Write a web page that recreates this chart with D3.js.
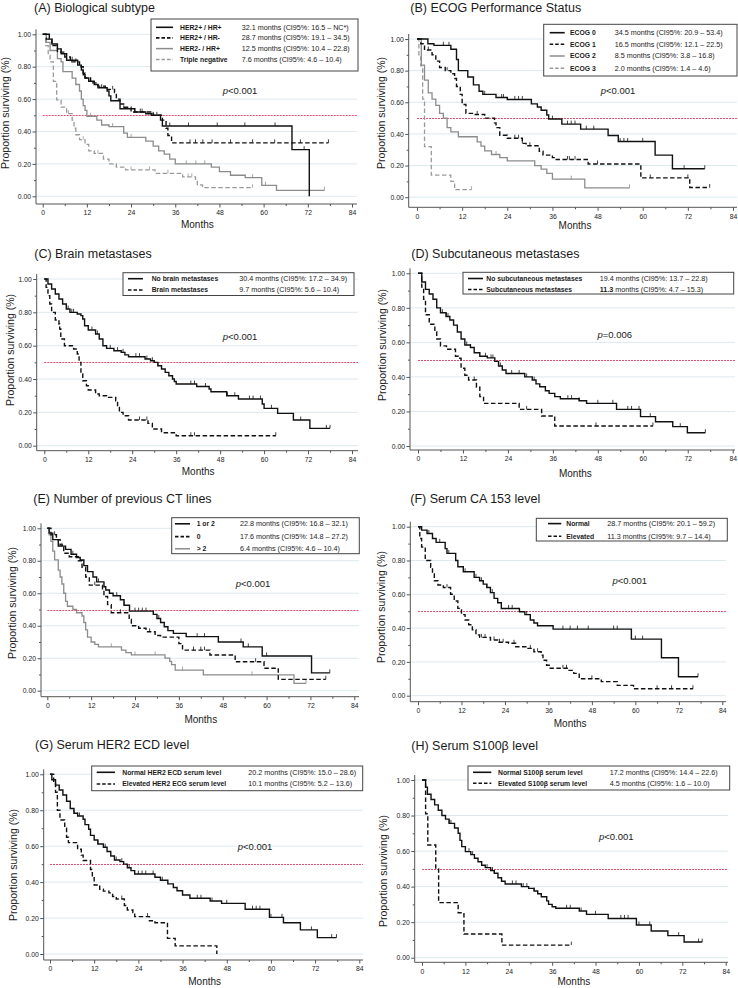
<!DOCTYPE html>
<html><head><meta charset="utf-8">
<script src="https://cdn.jsdelivr.net/npm/d3@7"></script>
<style>
body{margin:0;background:#fff}
svg{display:block}
text{font-family:"Liberation Sans",Arial,Helvetica,sans-serif;fill:#1a1a1a}
</style></head>
<body><svg id="chart" width="738" height="988"></svg>
<script>
// ---------- shared tick values ----------
const xMajorTicks = [0, 12, 24, 36, 48, 60, 72, 84];
const xMinorTicks = [6, 18, 30, 42, 54, 66, 78];
const yMajorTicks = [0, 0.2, 0.4, 0.6, 0.8, 1.0];
const yMinorTicks = [0.1, 0.3, 0.5, 0.7, 0.9];
const medianLine = 0.5;

// ---------- (A) Biological subtype ----------
const aLabels = ["HER2+ / HR+", "HER2+ / HR-", "HER2- / HR+", "Triple negative"];
const aMedians = ["32.1 months (CI95%: 16.5 \u2013 NC*)", "28.7 months (CI95%: 19.1 \u2013 34.5)", "12.5 months (CI95%: 10.4 \u2013 22.8)", "7.6 months (CI95%: 4.6 \u2013 10.4)"];
const aHerPosHrPos = [[0,1],[1.8,0.97],[2.5,0.94],[4,0.91],[5,0.88],[6.5,0.84],[9.5,0.81],[10.5,0.78],[11,0.75],[11.5,0.73],[12.5,0.71],[14,0.69],[15,0.67],[17.5,0.65],[18,0.62],[18.5,0.59],[21,0.54],[25,0.52],[28,0.51],[29.5,0.50],[32,0.47],[32.5,0.434],[67.7,0.288],[72.4,0]];
const aHerPosHrPosEnd = 72.4;
const aHerPosHrPosCens = [8,13,16,22,26.5,30,34.5,39.6,47.4,54.9,63.1,71];
const aHerPosHrNeg = [[0,1],[1,0.97],[2.5,0.93],[4,0.89],[6,0.86],[7.5,0.83],[10,0.80],[11,0.76],[11.5,0.73],[13,0.70],[15,0.68],[17,0.66],[19.5,0.64],[20,0.60],[21,0.57],[22,0.55],[24,0.52],[30,0.50],[32.5,0.47],[33.5,0.42],[34,0.375],[35,0.33]];
const aHerPosHrNegEnd = 77.6;
const aHerPosHrNegCens = [5,9,19,25,27,31,40,41.5,43.5,46,51,57,63,70,77.6];
const aHerNegHrPos = [[0,1],[1,0.95],[2,0.90],[4,0.85],[5,0.83],[5.5,0.77],[8,0.73],[9,0.69],[10,0.65],[10.5,0.60],[11,0.56],[11.5,0.53],[12,0.494],[14.7,0.47],[16,0.44],[18,0.43],[22,0.39],[23,0.364],[28,0.34],[30,0.31],[31.5,0.28],[33,0.26],[34.5,0.23],[36,0.20],[45.8,0.18],[48,0.152],[51,0.13],[55,0.115],[59.5,0.068],[63.5,0.037]];
const aHerNegHrPosEnd = 76.5;
const aHerNegHrPosCens = [13,19,24,39,41.6,44,57,60.5,76.5];
const aTripleNeg = [[0,1],[0.8,0.93],[1.5,0.87],[2,0.83],[2.9,0.71],[3.8,0.595],[5,0.55],[6.5,0.51],[8,0.47],[8.5,0.42],[9,0.38],[10,0.35],[11.5,0.32],[12.5,0.28],[14,0.265],[16.5,0.23],[18,0.20],[20,0.18],[22.5,0.163],[30.5,0.142],[38,0.12],[41.5,0.10],[42,0.07],[43.4,0.053]];
const aTripleNegEnd = 57;
const aTripleNegCens = [7,11,15,24,29,34,39.5,40.5,57];

// ---------- (B) ECOG Performance Status ----------
const bLabels = ["ECOG 0", "ECOG 1", "ECOG 2", "ECOG 3"];
const bMedians = ["34.5 months (CI95%: 20.9 \u2013 53.4)", "16.5 months (CI95%: 12.1 \u2013 22.5)", "8.5 months (CI95%: 3.8 \u2013 16.8)", "2.0 months (CI95%: 1.4 \u2013 4.6)"];
const bEcog0 = [[0,1],[2.9,0.97],[4.5,0.96],[9,0.935],[10.5,0.87],[11,0.80],[13.5,0.76],[15,0.71],[16.5,0.67],[17.5,0.65],[21,0.63],[24,0.618],[30.4,0.59],[32,0.57],[33,0.55],[34.5,0.52],[35,0.494],[38.5,0.462],[43.5,0.43],[50.8,0.39],[53.5,0.352],[63.3,0.266],[67.9,0.18]];
const bEcog0End = 76.5;
const bEcog0Cens = [7,8.5,18,22.5,23,26,27,28,36,40,41,42,45,47,54,55,56,60,71,76.5];
const bEcog1 = [[0,1],[1,0.97],[2,0.93],[4,0.90],[5,0.86],[6,0.82],[7.5,0.80],[9,0.78],[10,0.75],[10.5,0.70],[11.5,0.65],[12,0.586],[13,0.53],[15,0.523],[18,0.50],[20.6,0.47],[21,0.44],[22,0.392],[24,0.373],[28,0.34],[29,0.325],[32.5,0.29],[33.5,0.266],[36,0.25],[37,0.238],[45.5,0.21],[59.5,0.122],[72.5,0.061]];
const bEcog1End = 77.8;
const bEcog1Cens = [3,8,16,26,27,28,30,40,40.5,42,48,62,72,77.8];
const bEcog2 = [[0,1],[1.15,0.835],[2,0.74],[3,0.66],[4,0.62],[5,0.58],[6,0.53],[7,0.50],[8,0.44],[9,0.413],[11,0.382],[16,0.35],[17,0.323],[18,0.293],[19.8,0.27],[22,0.25],[24,0.23],[31.3,0.20],[33,0.177],[34.5,0.15],[36,0.114],[44.6,0.059]];
const bEcog2End = 56.5;
const bEcog2Cens = [21,41,56.5];
const bEcog3 = [[0,1],[0.5,0.90],[1,0.83],[1.5,0.62],[2,0.32],[3.8,0.14],[9,0.10],[10,0.048]];
const bEcog3End = 14.5;
const bEcog3Cens = [14.5];

// ---------- (C) Brain metastases ----------
const cLabels = ["No brain metastases", "Brain metastases"];
const cMedians = ["30.4 months (CI95%: 17.2 \u2013 34.9)", "9.7 months (CI95%: 5.6 \u2013 10.4)"];
const cNoBrain = [[0,1],[1,0.97],[2,0.94],[3,0.91],[4,0.88],[5,0.85],[6,0.82],[7,0.80],[9,0.79],[10,0.78],[10.5,0.76],[11,0.72],[12,0.694],[14,0.67],[15,0.64],[16,0.60],[17,0.584],[19,0.57],[21,0.56],[22,0.545],[23,0.534],[27.5,0.52],[29,0.51],[30,0.50],[31,0.48],[32,0.46],[33,0.44],[34,0.42],[35,0.40],[35.5,0.385],[36,0.37],[41.6,0.355],[45,0.34],[45.5,0.324],[49.8,0.30],[53,0.28],[59.5,0.25],[60,0.224],[63.7,0.194],[68,0.154],[72.5,0.104]];
const cNoBrainEnd = 78;
const cNoBrainCens = [6.5,7.5,8,13,14.5,18,20,21.5,25,26,28,29.5,31,40,41,44,50,52,56,57,59,62,70,77,78];
const cBrain = [[0,1],[0.5,0.95],[1,0.90],[1.5,0.85],[2,0.80],[3,0.754],[4,0.73],[4.2,0.70],[4.5,0.64],[5.5,0.60],[8,0.58],[9,0.55],[9.5,0.50],[10,0.43],[10.5,0.39],[11.5,0.36],[12,0.334],[14,0.31],[15,0.30],[17,0.29],[19.5,0.27],[20,0.23],[20.5,0.20],[21.5,0.18],[23,0.154],[28.3,0.134],[29.5,0.10],[32,0.078],[36,0.06]];
const cBrainEnd = 63.2;
const cBrainCens = [26,28,40,41,63.2];

// ---------- (D) Subcutaneous metastases ----------
const dLabels = ["No subcutaneous metastases", "Subcutaneous metastases"];
const dMedians = ["19.4 months (CI95%: 13.7 \u2013 22.8)", "11.3 months (CI95%: 4.7 \u2013 15.3)"];
const dNoSubcut = [[0,1],[1,0.95],[2,0.907],[3,0.88],[4,0.85],[5,0.80],[6,0.772],[7.5,0.75],[8.5,0.73],[9.5,0.70],[10.5,0.66],[11.5,0.62],[12.5,0.585],[14,0.57],[15,0.54],[16.5,0.52],[18.5,0.51],[20.5,0.49],[21.5,0.463],[22.5,0.44],[23.5,0.42],[28.5,0.40],[30.5,0.382],[31.5,0.36],[32.5,0.343],[34,0.32],[35,0.305],[36.5,0.286],[38,0.274],[43,0.262],[45,0.247],[53,0.212],[59.4,0.17],[63.4,0.14],[68,0.112],[71.9,0.077]];
const dNoSubcutEnd = 76.7;
const dNoSubcutCens = [6.5,7.5,8,13,14,18,19.5,20,22,25,27,29,31,40,41,43,48,52,56,57,59,62,70,76.7];
const dSubcut = [[0,1],[1,0.92],[1.5,0.85],[2,0.76],[3,0.705],[4.5,0.662],[5,0.62],[6,0.58],[7.6,0.56],[10,0.52],[10.8,0.508],[11.5,0.45],[12.5,0.41],[13.5,0.382],[15.6,0.34],[16.5,0.286],[17.5,0.247],[27,0.212],[33,0.174],[36.5,0.116]];
const dSubcutEnd = 62.7;
const dSubcutCens = [15,29,47.5,62.7];

// ---------- (E) Number of previous CT lines ----------
const eLabels = ["1 or 2", "0", "> 2"];
const eMedians = ["22.8 months (CI95%: 16.8 \u2013 32.1)", "17.6 months (CI95%: 14.8 \u2013 27.2)", "6.4 months (CI95%: 4.6 \u2013 10.4)"];
const eOneOrTwo = [[0,1],[0.5,0.97],[1.5,0.93],[3,0.89],[5,0.87],[6.5,0.84],[8,0.82],[9,0.805],[10,0.77],[11,0.733],[12.5,0.70],[13.5,0.67],[15.5,0.64],[16,0.62],[17,0.60],[18,0.585],[20,0.56],[21,0.526],[22.5,0.49],[29,0.47],[30,0.445],[31,0.42],[32,0.394],[33,0.37],[34.5,0.353],[38,0.333],[46.8,0.30],[53.6,0.27],[58.8,0.214],[72.3,0.11]];
const eOneOrTwoEnd = 77.3;
const eOneOrTwoCens = [4,7,14,19,21,24,25,26,27,30.5,41,43,53,55,60,77.3];
const eZero = [[0,1],[1,0.96],[2.5,0.93],[3.5,0.897],[4.5,0.846],[6,0.825],[8.5,0.80],[9.5,0.76],[10.5,0.70],[11.5,0.65],[15.1,0.62],[15.5,0.58],[16.5,0.53],[17.5,0.48],[22.4,0.44],[23,0.40],[25,0.385],[27,0.363],[29.5,0.34],[31,0.33],[36,0.29],[37,0.25],[44.5,0.22],[51.4,0.178],[59.3,0.138],[63.2,0.07]];
const eZeroEnd = 76.2;
const eZeroCens = [2,13,20,28,40,42,43,57,76.2];
const eMoreThanTwo = [[0,1],[0.5,0.96],[1,0.92],[1.5,0.86],[2,0.805],[3,0.743],[3.5,0.70],[4,0.657],[4.5,0.60],[5,0.55],[5.5,0.52],[7,0.50],[8,0.48],[9.5,0.46],[10,0.42],[10.5,0.374],[11,0.33],[12,0.30],[13,0.285],[14,0.27],[20.3,0.25],[21.5,0.234],[23,0.22],[32.2,0.20],[33.5,0.18],[34,0.16],[35,0.127],[42.7,0.097],[67.5,0.045]];
const eMoreThanTwoEnd = 70.8;
const eMoreThanTwoCens = [8,17.5,24,29.5,37,56,70.8];

// ---------- (F) Serum CA 153 level ----------
const fLabels = ["Normal", "Elevated"];
const fMedians = ["28.7 months (CI95%: 20.1 \u2013 59.2)", "11.3 months (CI95%: 9.7 \u2013 14.4)"];
const fNormal = [[0,1],[1,0.98],[2.5,0.96],[4,0.93],[5,0.907],[7.5,0.87],[8,0.842],[10.4,0.80],[11,0.763],[12.5,0.733],[15.5,0.70],[17,0.68],[18,0.66],[19,0.64],[20,0.61],[21,0.576],[22,0.55],[23,0.516],[28,0.497],[29.5,0.48],[31,0.448],[32,0.43],[33,0.414],[37.3,0.394],[58.9,0.335],[67.2,0.225],[71.9,0.112]];
const fNormalEnd = 77.3;
const fNormalCens = [3,6,8.5,13,16,17.5,19,20.5,25,26,30,40,42,44,47,54,55,60,62,77.3];
const fElevated = [[0,1],[0.5,0.93],[1,0.88],[2,0.80],[3.5,0.76],[4,0.72],[4.5,0.68],[5.5,0.655],[7,0.64],[9,0.60],[10,0.56],[11,0.517],[12,0.48],[13,0.448],[14,0.42],[15,0.39],[16,0.36],[17,0.345],[20,0.33],[22,0.316],[25,0.31],[27,0.29],[30,0.28],[32,0.26],[34,0.24],[34.5,0.21],[35.5,0.18],[36.5,0.162],[41.5,0.15],[43,0.132],[44.5,0.10],[50.6,0.083],[55,0.061],[59.5,0.041]];
const fElevatedEnd = 75.9;
const fElevatedCens = [8,17.5,18.5,21,22.5,23.5,26.5,31,33,40,41,48,66,70,75.9];

// ---------- (G) Serum HER2 ECD level ----------
const gLabels = ["Normal HER2 ECD serum level", "Elevated HER2 ECG serum level"];
const gMedians = ["20.2 months (CI95%: 15.0 \u2013 28.6)", "10.1 months (CI95%: 5.2 \u2013 13.6)"];
const gNormal = [[0,1],[0.5,0.97],[1.5,0.94],[2.5,0.913],[3.5,0.885],[4.5,0.85],[5.5,0.81],[6.5,0.783],[7.5,0.768],[9,0.75],[9.5,0.72],[10.5,0.694],[11,0.66],[12,0.634],[13,0.612],[14.5,0.594],[15.5,0.57],[16.5,0.545],[17.5,0.523],[19,0.514],[20,0.50],[21,0.48],[22,0.464],[23,0.445],[28.5,0.427],[30,0.41],[32,0.39],[33.5,0.37],[34.5,0.352],[36,0.328],[38,0.31],[43.5,0.295],[46.6,0.282],[53,0.249],[59.6,0.204],[63.4,0.174],[68,0.134],[72.6,0.091]];
const gNormalEnd = 77.8;
const gNormalCens = [6.5,7.5,8,13,15,18,19.5,21.5,24,25,26,28,30.5,40,41,44,48,55,56,57,60,63,71,76.5,77.8];
const gElevated = [[0,1],[1,0.95],[1.5,0.90],[2,0.80],[2.7,0.746],[4,0.70],[4.5,0.65],[5,0.62],[7.5,0.583],[8.5,0.55],[9,0.52],[11,0.47],[11.5,0.43],[12,0.384],[13.5,0.36],[14.5,0.35],[16,0.34],[17,0.32],[18,0.306],[20.2,0.27],[21,0.245],[22.5,0.23],[23,0.208],[27,0.185],[28.5,0.174],[31.9,0.087],[34,0.045],[45.3,0]];
const gElevatedEnd = 45.3;
const gElevatedCens = [19.5,26.5];

// ---------- (H) Serum S100β level ----------
const hLabels = ["Normal S100\u03b2 serum level", "Elevated S100\u03b2 serum level"];
const hMedians = ["17.2 months (CI95%: 14.4 \u2013 22.6)", "4.5 months (CI95%: 1.6 \u2013 10.0)"];
const hNormal = [[0,1],[1,0.96],[1.5,0.92],[2.5,0.89],[3.5,0.86],[4.5,0.83],[5.5,0.80],[6.5,0.78],[7.5,0.756],[9,0.73],[10,0.70],[10.5,0.66],[11,0.625],[12,0.597],[13.5,0.58],[14.5,0.56],[15.5,0.54],[16.5,0.52],[17.5,0.507],[19,0.49],[20,0.475],[21,0.45],[22,0.43],[23,0.415],[27.5,0.40],[29.5,0.39],[31,0.375],[32,0.36],[33,0.343],[34.5,0.32],[35,0.30],[36,0.287],[37,0.278],[43.5,0.263],[45.5,0.244],[51.5,0.221],[59.3,0.184],[63.4,0.15],[68,0.124],[72.5,0.088]];
const hNormalEnd = 77.5;
const hNormalCens = [6.5,7.5,8,13,14,18,19.5,20,22,25,26,28,29,31,40,41,44,48,55,56,57,60,63,71,76.5,77.5];
const hElevated = [[0,1],[1,0.81],[1.6,0.634],[3.8,0.50],[4.6,0.31],[10,0.253],[11.6,0.133],[22.1,0.071]];
const hElevatedEnd = 41.3;
const hElevatedCens = [41.3];

// ---------- line styles ----------
const styles = {
  blackSolid: {stroke: "#111", width: 1.4, dash: null},
  blackDash:  {stroke: "#111", width: 1.4, dash: "4.5,2.5"},
  graySolid:  {stroke: "#8c8c8c", width: 1.3, dash: null},
  grayDash:   {stroke: "#9a9a9a", width: 1.3, dash: "4.5,2.5"}
};

// ---------- panel layout ----------
const panels = [
  {title:"(A) Biological subtype", tx:34, ty:11.5, x0:42.7, x84:352, y1:34.3, y0:196.3, axX:36, axY:204, right:357,
   ylx:5, yly:113, px:240, py:90, pText:"<0.001", monthsY:228,
   leg:{x:151, y:19, w:207, h:52, l1:156, l2:173, lab:180, ci:241.7, rows:[27.3,37.9,48.6,59.4]},
   labels:aLabels, medians:aMedians, medBold:[false,false,false,false],
   series:[{s:aHerPosHrPos,e:aHerPosHrPosEnd,c:aHerPosHrPosCens,st:"blackSolid"},{s:aHerPosHrNeg,e:aHerPosHrNegEnd,c:aHerPosHrNegCens,st:"blackDash"},{s:aHerNegHrPos,e:aHerNegHrPosEnd,c:aHerNegHrPosCens,st:"graySolid"},{s:aTripleNeg,e:aTripleNegEnd,c:aTripleNegCens,st:"grayDash"}]},
  {title:"(B) ECOG Performance Status", tx:410.3, ty:11.5, x0:417, x84:733, y1:39, y0:197.2, axX:408.7, axY:207.3, right:737,
   ylx:381, yly:113, px:618, py:90, pText:"<0.001", monthsY:229,
   leg:{x:543.7, y:24.3, w:193.3, h:51.7, l1:549.7, l2:564.7, lab:570, ci:614.7, rows:[32.7,44.3,56,68.3]},
   labels:bLabels, medians:bMedians, medBold:[false,false,false,false],
   series:[{s:bEcog0,e:bEcog0End,c:bEcog0Cens,st:"blackSolid"},{s:bEcog1,e:bEcog1End,c:bEcog1Cens,st:"blackDash"},{s:bEcog2,e:bEcog2End,c:bEcog2Cens,st:"graySolid"},{s:bEcog3,e:bEcog3End,c:bEcog3Cens,st:"grayDash"}]},
  {title:"(C) Brain metastases", tx:34.3, ty:257.5, x0:44.3, x84:352, y1:279, y0:445.7, axX:36.7, axY:450.7, right:358,
   ylx:10, yly:350, px:240, py:336, pText:"<0.001", monthsY:475,
   leg:{x:123, y:272.7, w:231, h:22.8, l1:128, l2:143, lab:151.7, ci:239.3, rows:[278.7,290]},
   labels:cLabels, medians:cMedians, medBold:[false,false],
   series:[{s:cNoBrain,e:cNoBrainEnd,c:cNoBrainCens,st:"blackSolid"},{s:cBrain,e:cBrainEnd,c:cBrainCens,st:"blackDash"}]},
  {title:"(D) Subcutaneous metastases", tx:411.3, ty:257.5, x0:418, x84:732.7, y1:273.3, y0:446, axX:410, axY:450, right:735,
   ylx:382, yly:345, px:614.7, py:334, pText:"=0.006", monthsY:477,
   leg:{x:463, y:272.3, w:270.7, h:21.7, l1:468, l2:483, lab:486.3, ci:599.7, rows:[278.5,289.5]},
   labels:dLabels, medians:dMedians, medBold:[false,true],
   series:[{s:dNoSubcut,e:dNoSubcutEnd,c:dNoSubcutCens,st:"blackSolid"},{s:dSubcut,e:dSubcutEnd,c:dSubcutCens,st:"blackDash"}]},
  {title:"(E) Number of previous CT lines", tx:33.3, ty:502.5, x0:47.3, x84:354.3, y1:528.3, y0:690.7, axX:41, axY:696.7, right:359,
   ylx:12, yly:603, px:253, py:583, pText:"<0.001", monthsY:722.5,
   leg:{x:171.7, y:517.7, w:187.6, h:36, l1:175, l2:190, lab:196.7, ci:240, rows:[523.8,536.6,548.8]},
   labels:eLabels, medians:eMedians, medBold:[false,false,false],
   series:[{s:eOneOrTwo,e:eOneOrTwoEnd,c:eOneOrTwoCens,st:"blackSolid"},{s:eZero,e:eZeroEnd,c:eZeroCens,st:"blackDash"},{s:eMoreThanTwo,e:eMoreThanTwoEnd,c:eMoreThanTwoCens,st:"graySolid"}]},
  {title:"(F) Serum CA 153 level", tx:410.3, ty:503, x0:418, x84:722.3, y1:526.7, y0:695.7, axX:410.3, axY:701.7, right:726,
   ylx:381, yly:607, px:629.7, py:580, pText:"<0.001", monthsY:726.5,
   leg:{x:536.3, y:518.3, w:191, h:22.7, l1:548, l2:561.3, lab:566.3, ci:607.3, rows:[523.6,536.2]},
   labels:fLabels, medians:fMedians, medBold:[false,false],
   series:[{s:fNormal,e:fNormalEnd,c:fNormalCens,st:"blackSolid"},{s:fElevated,e:fElevatedEnd,c:fElevatedCens,st:"blackDash"}]},
  {title:"(G) Serum HER2 ECD level", tx:35, ty:749, x0:50, x84:359.3, y1:774.3, y0:954, axX:43.7, axY:960, right:363,
   ylx:13, yly:865, px:255, py:846.7, pText:"<0.001", monthsY:984.5,
   leg:{x:91.7, y:766, w:271, h:24.7, l1:96.7, l2:115, lab:122.3, ci:248.3, rows:[772.3,784]},
   labels:gLabels, medians:gMedians, medBold:[false,false],
   series:[{s:gNormal,e:gNormalEnd,c:gNormalCens,st:"blackSolid"},{s:gElevated,e:gElevatedEnd,c:gElevatedCens,st:"blackDash"}]},
  {title:"(H) Serum S100\u03b2 level", tx:411.3, ty:750, x0:422, x84:725.7, y1:780, y0:957.7, axX:414.7, axY:962.3, right:728,
   ylx:383, yly:871, px:616.3, py:836, pText:"<0.001", monthsY:985,
   leg:{x:468, y:766, w:261.7, h:24, l1:473, l2:491.3, lab:498, ci:609.7, rows:[772.3,783.3]},
   labels:hLabels, medians:hMedians, medBold:[false,false],
   series:[{s:hNormal,e:hNormalEnd,c:hNormalCens,st:"blackSolid"},{s:hElevated,e:hElevatedEnd,c:hElevatedCens,st:"blackDash"}]}
];

const svg = d3.select("#chart");

function survAt(steps, t) {
  let v = steps[0][1];
  for (const [tt, s] of steps) { if (tt <= t) v = s; else break; }
  return v;
}

function drawPanel(p) {
  const g = svg.append("g");
  const x = d3.scaleLinear().domain([0, 84]).range([p.x0, p.x84]);
  const y = d3.scaleLinear().domain([0, 1]).range([p.y0, p.y1]);

  // gridlines
  g.append("g").selectAll("line").data(yMajorTicks).join("line")
    .attr("x1", p.axX).attr("x2", p.right)
    .attr("y1", d => y(d)).attr("y2", d => y(d))
    .attr("stroke", "#dce9ef").attr("stroke-width", 1);

  // median reference line (pixel-aligned so it stays crisp red)
  const my = Math.round(y(medianLine)) + 0.5;
  g.append("line").attr("x1", p.x0).attr("x2", p.right)
    .attr("y1", my).attr("y2", my)
    .attr("stroke", "#e0506f").attr("stroke-width", 1).attr("stroke-dasharray", "2,1");

  // y axis
  const yAx = g.append("g").attr("transform", `translate(${p.axX},0)`)
    .call(d3.axisLeft(y).tickValues(yMajorTicks).tickFormat(d3.format(".2f")).tickSize(3.5).tickPadding(1.5));
  yAx.select(".domain").remove();
  yAx.selectAll("line").attr("stroke", "#555");
  yAx.selectAll("text").attr("font-size", 6.8).attr("fill", "#333").style("font-family", "'Liberation Sans',Arial,sans-serif");
  const yMin = g.append("g").attr("transform", `translate(${p.axX},0)`)
    .call(d3.axisLeft(y).tickValues(yMinorTicks).tickFormat("").tickSize(2));
  yMin.select(".domain").remove();
  yMin.selectAll("line").attr("stroke", "#555");

  // x axis
  const xAx = g.append("g").attr("transform", `translate(0,${p.axY})`)
    .call(d3.axisBottom(x).tickValues(xMajorTicks).tickFormat(d3.format("d")).tickSize(3.5).tickPadding(3));
  xAx.select(".domain").remove();
  xAx.selectAll("line").attr("stroke", "#555");
  xAx.selectAll("text").attr("font-size", 6.8).attr("fill", "#333").style("font-family", "'Liberation Sans',Arial,sans-serif");
  const xMin = g.append("g").attr("transform", `translate(0,${p.axY})`)
    .call(d3.axisBottom(x).tickValues(xMinorTicks).tickFormat("").tickSize(2));
  xMin.select(".domain").remove();
  xMin.selectAll("line").attr("stroke", "#555");

  // axis lines
  g.append("line").attr("x1", p.axX).attr("x2", p.axX).attr("y1", p.y1 - 5).attr("y2", p.axY)
    .attr("stroke", "#555").attr("stroke-width", 1);
  g.append("line").attr("x1", p.axX).attr("x2", p.right).attr("y1", p.axY).attr("y2", p.axY)
    .attr("stroke", "#555").attr("stroke-width", 1);

  // axis titles
  g.append("text").attr("x", (p.x0 + p.x84) / 2).attr("y", p.monthsY)
    .attr("text-anchor", "middle").attr("font-size", 10).text("Months");
  g.append("text").attr("transform", `translate(${p.ylx + 4},${p.yly}) rotate(-90)`)
    .attr("text-anchor", "middle").attr("font-size", 10.5).text("Proportion surviving (%)");

  // title
  g.append("text").attr("x", p.tx).attr("y", p.ty).attr("font-size", 12.5).text(p.title);

  // p value
  const pt = g.append("text").attr("x", p.px).attr("y", p.py + 3.5).attr("text-anchor", "middle").attr("font-size", 9.5);
  pt.append("tspan").attr("font-style", "italic").text("p");
  pt.append("tspan").text(p.pText);

  // curves (draw last series first so black is on top)
  const line = d3.line().x(d => x(d[0])).y(d => y(d[1])).curve(d3.curveStepAfter);
  [...p.series].reverse().forEach(se => {
    const st = styles[se.st];
    const last = se.s[se.s.length - 1];
    const pts = last[0] >= se.e ? se.s : se.s.concat([[se.e, last[1]]]);
    g.append("path").datum(pts).attr("d", line).attr("fill", "none")
      .attr("stroke", st.stroke).attr("stroke-width", st.width)
      .attr("stroke-dasharray", st.dash);
    g.append("g").selectAll("line").data(se.c).join("line")
      .attr("x1", d => x(d)).attr("x2", d => x(d))
      .attr("y1", d => y(survAt(se.s, d)) - 3.5).attr("y2", d => y(survAt(se.s, d)))
      .attr("stroke", st.stroke).attr("stroke-width", 0.8);
  });

  // legend
  const L = p.leg;
  g.append("rect").attr("x", L.x).attr("y", L.y).attr("width", L.w).attr("height", L.h)
    .attr("fill", "#fff").attr("stroke", "#444").attr("stroke-width", 1);
  p.series.forEach((se, i) => {
    const st = styles[se.st];
    const ry = L.rows[i];
    g.append("line").attr("x1", L.l1).attr("x2", L.l2).attr("y1", ry).attr("y2", ry)
      .attr("stroke", st.stroke).attr("stroke-width", st.width + 0.2).attr("stroke-dasharray", st.dash ? "3.5,2" : null);
    g.append("text").attr("x", L.lab).attr("y", ry + 2.4).attr("font-size", 6.8).attr("font-weight", "bold").text(p.labels[i]);
    const t = g.append("text").attr("x", L.ci).attr("y", ry + 2.4).attr("font-size", 7.2).attr("fill", "#333");
    const med = p.medians[i];
    if (p.medBold[i]) {
      const sp = med.indexOf(" ");
      t.append("tspan").attr("font-weight", "bold").text(med.slice(0, sp));
      t.append("tspan").text(med.slice(sp));
    } else {
      t.text(med);
    }
  });
}

panels.forEach(drawPanel);
</script>
</body></html>
